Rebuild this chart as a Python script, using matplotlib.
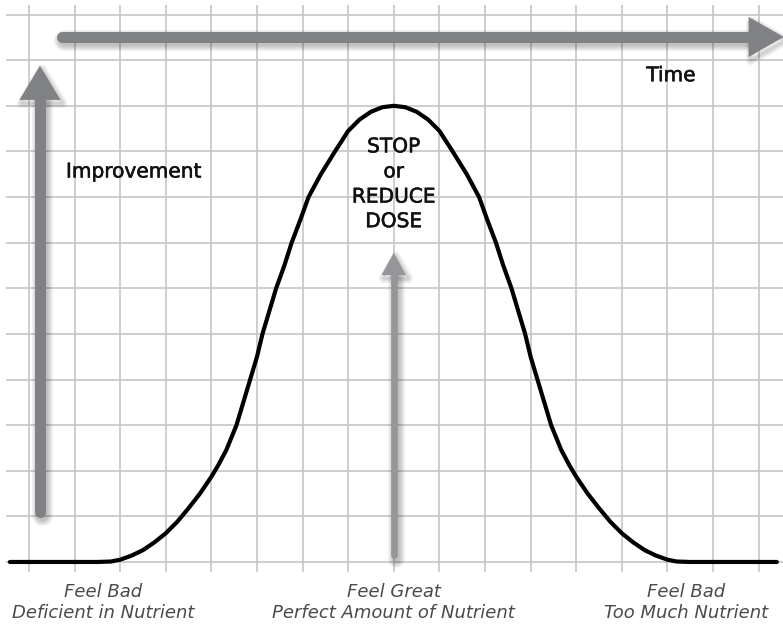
import matplotlib
matplotlib.use("Agg")
import matplotlib.pyplot as plt
import matplotlib.transforms as mtransforms
import matplotlib.patheffects as pe
from matplotlib.patches import Polygon
import numpy as np

# grid units: one cell of the background grid = 1
curve_x = [-0.42, 1.0, 1.5, 1.8, 2.0, 2.25, 2.5, 2.75, 3.0, 3.25, 3.5, 3.75, 4.0, 4.15,
           4.33, 4.55, 4.7, 4.85, 5.0, 5.12, 5.27, 5.42, 5.6, 5.76, 5.95, 6.13, 6.4,
           6.71, 7.0, 7.25, 7.5, 7.75, 8.0, 8.25, 8.5, 8.75, 9.0, 9.29, 9.6, 9.87,
           10.05, 10.24, 10.4, 10.58, 10.73, 10.88, 11.0, 11.15, 11.3, 11.45, 11.67,
           11.85, 12.0, 12.25, 12.5, 12.75, 13.0, 13.25, 13.5, 13.75, 14.0, 14.2,
           14.5, 15.5, 16.4]
curve_y = [0, 0, 0, 0.01, 0.05, 0.14, 0.26, 0.43, 0.63, 0.88, 1.18, 1.5, 1.87, 2.12,
           2.46, 3.0, 3.5, 4.0, 4.5, 5.0, 5.5, 6.0, 6.5, 7.0, 7.5, 8.0, 8.5,
           9.0, 9.45, 9.7, 9.87, 9.97, 10.0, 9.97, 9.87, 9.7, 9.45, 9.0, 8.5, 8.0,
           7.5, 7.0, 6.5, 6.0, 5.5, 5.0, 4.5, 4.0, 3.5, 3.0, 2.46,
           2.12, 1.87, 1.5, 1.18, 0.88, 0.63, 0.43, 0.26, 0.14, 0.05, 0.01,
           0, 0, 0]

grid_cols = np.arange(0, 17)
grid_rows = np.arange(0, 13)

bottom_x = [1.62, 8.0, 14.41]
bottom_top = ["Feel Bad", "Feel Great", "Feel Bad"]
bottom_sub = ["Deficient in Nutrient", "Perfect Amount of Nutrient", "Too Much Nutrient"]

stop_lines = ["STOP", "or", "REDUCE", "DOSE"]
stop_y = [9.1, 8.55, 8.0, 7.46]

plt.rcParams['font.family'] = ['DejaVu Sans']

fig = plt.figure(figsize=(7.83, 6.24), dpi=100)
ax = fig.add_axes([0, 0, 1, 1])
ax.set_xlim(-0.636, 16.535)
ax.set_ylim(-1.36, 12.32)
ax.axis('off')

# background grid
ax.vlines(grid_cols, -0.22, 12.21, color='#c6c6c8', lw=1.2, zorder=1)
ax.hlines(grid_rows, -0.5, 16.6, color='#c6c6c8', lw=1.2, zorder=1)


def shadow_shaft(xs, ys, lw, color):
    for i in range(6):
        tr = mtransforms.offset_copy(ax.transData, fig, x=1.5, y=-2.5, units='points')
        ax.plot(xs, ys, color='black', lw=lw + 1.5 * i, alpha=0.045,
                solid_capstyle='round', transform=tr, zorder=2)
    ax.plot(xs, ys, color=color, lw=lw, solid_capstyle='round', zorder=3)


def shadow_head(pts, color):
    for i in range(5):
        tr = mtransforms.offset_copy(ax.transData, fig, x=1.5, y=-2.5, units='points')
        ax.add_patch(Polygon(pts, closed=True, facecolor='none', edgecolor='black',
                             lw=1 + 1.5 * i, alpha=0.04, joinstyle='round',
                             transform=tr, zorder=2))
    ax.add_patch(Polygon(pts, closed=True, facecolor=color, edgecolor='none', zorder=3))


arrow_col = '#808184'
# time arrow
shadow_shaft([0.72, 15.8], [11.51, 11.51], 7.9, arrow_col)
shadow_head([[15.78, 11.95], [16.55, 11.51], [15.78, 11.07]], arrow_col)
# improvement arrow
shadow_shaft([0.24, 0.24], [1.1, 10.2], 7.9, arrow_col)
shadow_head([[-0.21, 10.13], [0.24, 10.88], [0.69, 10.13]], arrow_col)
# dose arrow
shadow_shaft([8.0, 8.0], [0.15, 6.35], 4.8, '#959699')
shadow_head([[7.73, 6.29], [8.0, 6.78], [8.27, 6.29]], '#959699')

# curve
ax.plot(curve_x, curve_y, color='black', lw=3.0, solid_capstyle='round',
        solid_joinstyle='round', zorder=4)

# a thin stroke makes DejaVu look like the medium weight of the original
medium = [pe.withStroke(linewidth=0.4, foreground='#111111')]
ax.text(0.81, 8.55, "Improvement", fontsize=14.5, ha='left', va='center',
        color='#111111', zorder=5, path_effects=medium)
ax.text(14.08, 10.66, "Time", fontsize=14.5, ha='center', va='center',
        color='#111111', zorder=5, path_effects=medium)
for s, y in zip(stop_lines, stop_y):
    ax.text(8.0, y, s, fontsize=14.5, ha='center', va='center',
            color='#111111', zorder=5, path_effects=medium)

for x, t, s in zip(bottom_x, bottom_top, bottom_sub):
    ax.text(x, -0.66, t, fontsize=13, style='italic',
            ha='center', va='center', color='#4a4a4a')
    ax.text(x, -1.12, s, fontsize=13, style='italic',
            ha='center', va='center', color='#4a4a4a')

fig.savefig("out.png", dpi=100)
